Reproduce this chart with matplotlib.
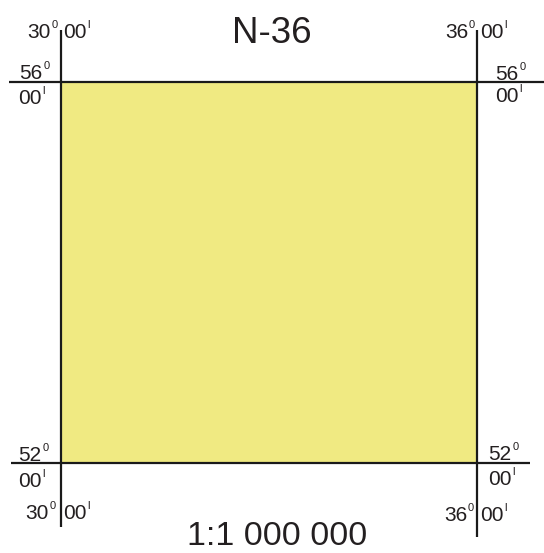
import matplotlib
matplotlib.use("Agg")
import matplotlib.pyplot as plt
from matplotlib.patches import Rectangle

plt.rcParams['font.family'] = ['Liberation Sans', 'DejaVu Sans']

# Sheet data
sheet_name = "N-36"
scale_text = "1:1 000 000"
lon_bounds = [30, 36]      # west, east (degrees)
lat_bounds = [52, 56]      # south, north (degrees)
minute_text = "00"
deg_mark = "0"
min_mark = "l"

W, H = 544, 553
fig = plt.figure(figsize=(W / 100, H / 100), dpi=100)
ax = fig.add_axes([0, 0, 1, 1])
ax.axis('off')

# pixel placement of the frame
px_w, px_e = 61, 477
py_n, py_s = 82, 463
dx = (lon_bounds[1] - lon_bounds[0]) / (px_e - px_w)
dy = (lat_bounds[1] - lat_bounds[0]) / (py_s - py_n)
ax.set_xlim(lon_bounds[0] - px_w * dx, lon_bounds[1] + (W - px_e) * dx)
ax.set_ylim(lat_bounds[0] - (H - py_s) * dy, lat_bounds[1] + py_n * dy)

w, e = lon_bounds
s, n = lat_bounds

ax.add_patch(Rectangle((w, s), e - w, n - s, facecolor='#F0EA82', edgecolor='none', zorder=1))

lw = 1.6
c = '#1a1a1a'
ax.plot([w, w], [n + 52 * dy, s - 64 * dy], color=c, lw=lw, zorder=3, solid_capstyle='butt')
ax.plot([e, e], [n + 52 * dy, s - 74 * dy], color=c, lw=lw, zorder=3, solid_capstyle='butt')
ax.plot([w - 52 * dx, e + 67 * dx], [n, n], color=c, lw=lw, zorder=3, solid_capstyle='butt')
ax.plot([w - 50 * dx, e + 53 * dx], [s, s], color=c, lw=lw, zorder=3, solid_capstyle='butt')

fs = 15
fs_sup = 8
tc = '#231f20'
renderer = fig.canvas.get_renderer()


def lab(x, y, ox, oy, main, sup, ha):
    """Main text anchored at pixel offset (ox, oy) from data point; superscript after it."""
    t = ax.annotate(main, (x, y), xytext=(ox, oy), textcoords='offset pixels',
                    ha=ha, va='baseline', fontsize=fs, color=tc, zorder=4)
    bb = t.get_window_extent(renderer)
    px, py = ax.transData.transform((x, y))
    right = bb.x1 - px
    ax.annotate(sup, (x, y), xytext=(right + 1, oy + 10), textcoords='offset pixels',
                ha='left', va='baseline', fontsize=fs_sup, color=tc, zorder=4)


# top longitude labels
lab(w, n, -10, 82 - 38, str(w), deg_mark, 'right')
lab(w, n, 2, 82 - 38, minute_text, min_mark, 'left')
lab(e, n, -9, 82 - 38, str(e), deg_mark, 'right')
lab(e, n, 3, 82 - 38, minute_text, min_mark, 'left')
# bottom longitude labels
lab(w, s, -12, 463 - 519, str(w), deg_mark, 'right')
lab(w, s, 2, 463 - 519, minute_text, min_mark, 'left')
lab(e, s, -10, 463 - 521, str(e), deg_mark, 'right')
lab(e, s, 3, 463 - 521, minute_text, min_mark, 'left')

# latitude labels, west side
lab(w, n, 19 - 61, 82 - 79, str(n), deg_mark, 'left')
lab(w, n, 18 - 61, 82 - 104, minute_text, min_mark, 'left')
lab(w, s, 18 - 61, 463 - 461, str(s), deg_mark, 'left')
lab(w, s, 18 - 61, 463 - 487, minute_text, min_mark, 'left')
# latitude labels, east side
lab(e, n, 495 - 477, 82 - 80, str(n), deg_mark, 'left')
lab(e, n, 495 - 477, 82 - 102, minute_text, min_mark, 'left')
lab(e, s, 488 - 477, 463 - 460, str(s), deg_mark, 'left')
lab(e, s, 488 - 477, 463 - 485, minute_text, min_mark, 'left')

# title and scale
ax.annotate(sheet_name, ((w + e) / 2, n), xytext=(272 - 269, 82 - 43),
            textcoords='offset pixels', ha='center', va='baseline',
            fontsize=26.5, color=tc)
ax.annotate(scale_text, ((w + e) / 2, s), xytext=(277 - 269, 463 - 552),
            textcoords='offset pixels', ha='center', va='bottom',
            fontsize=24.5, color=tc)

fig.savefig('out.png', dpi=100, facecolor='white')
